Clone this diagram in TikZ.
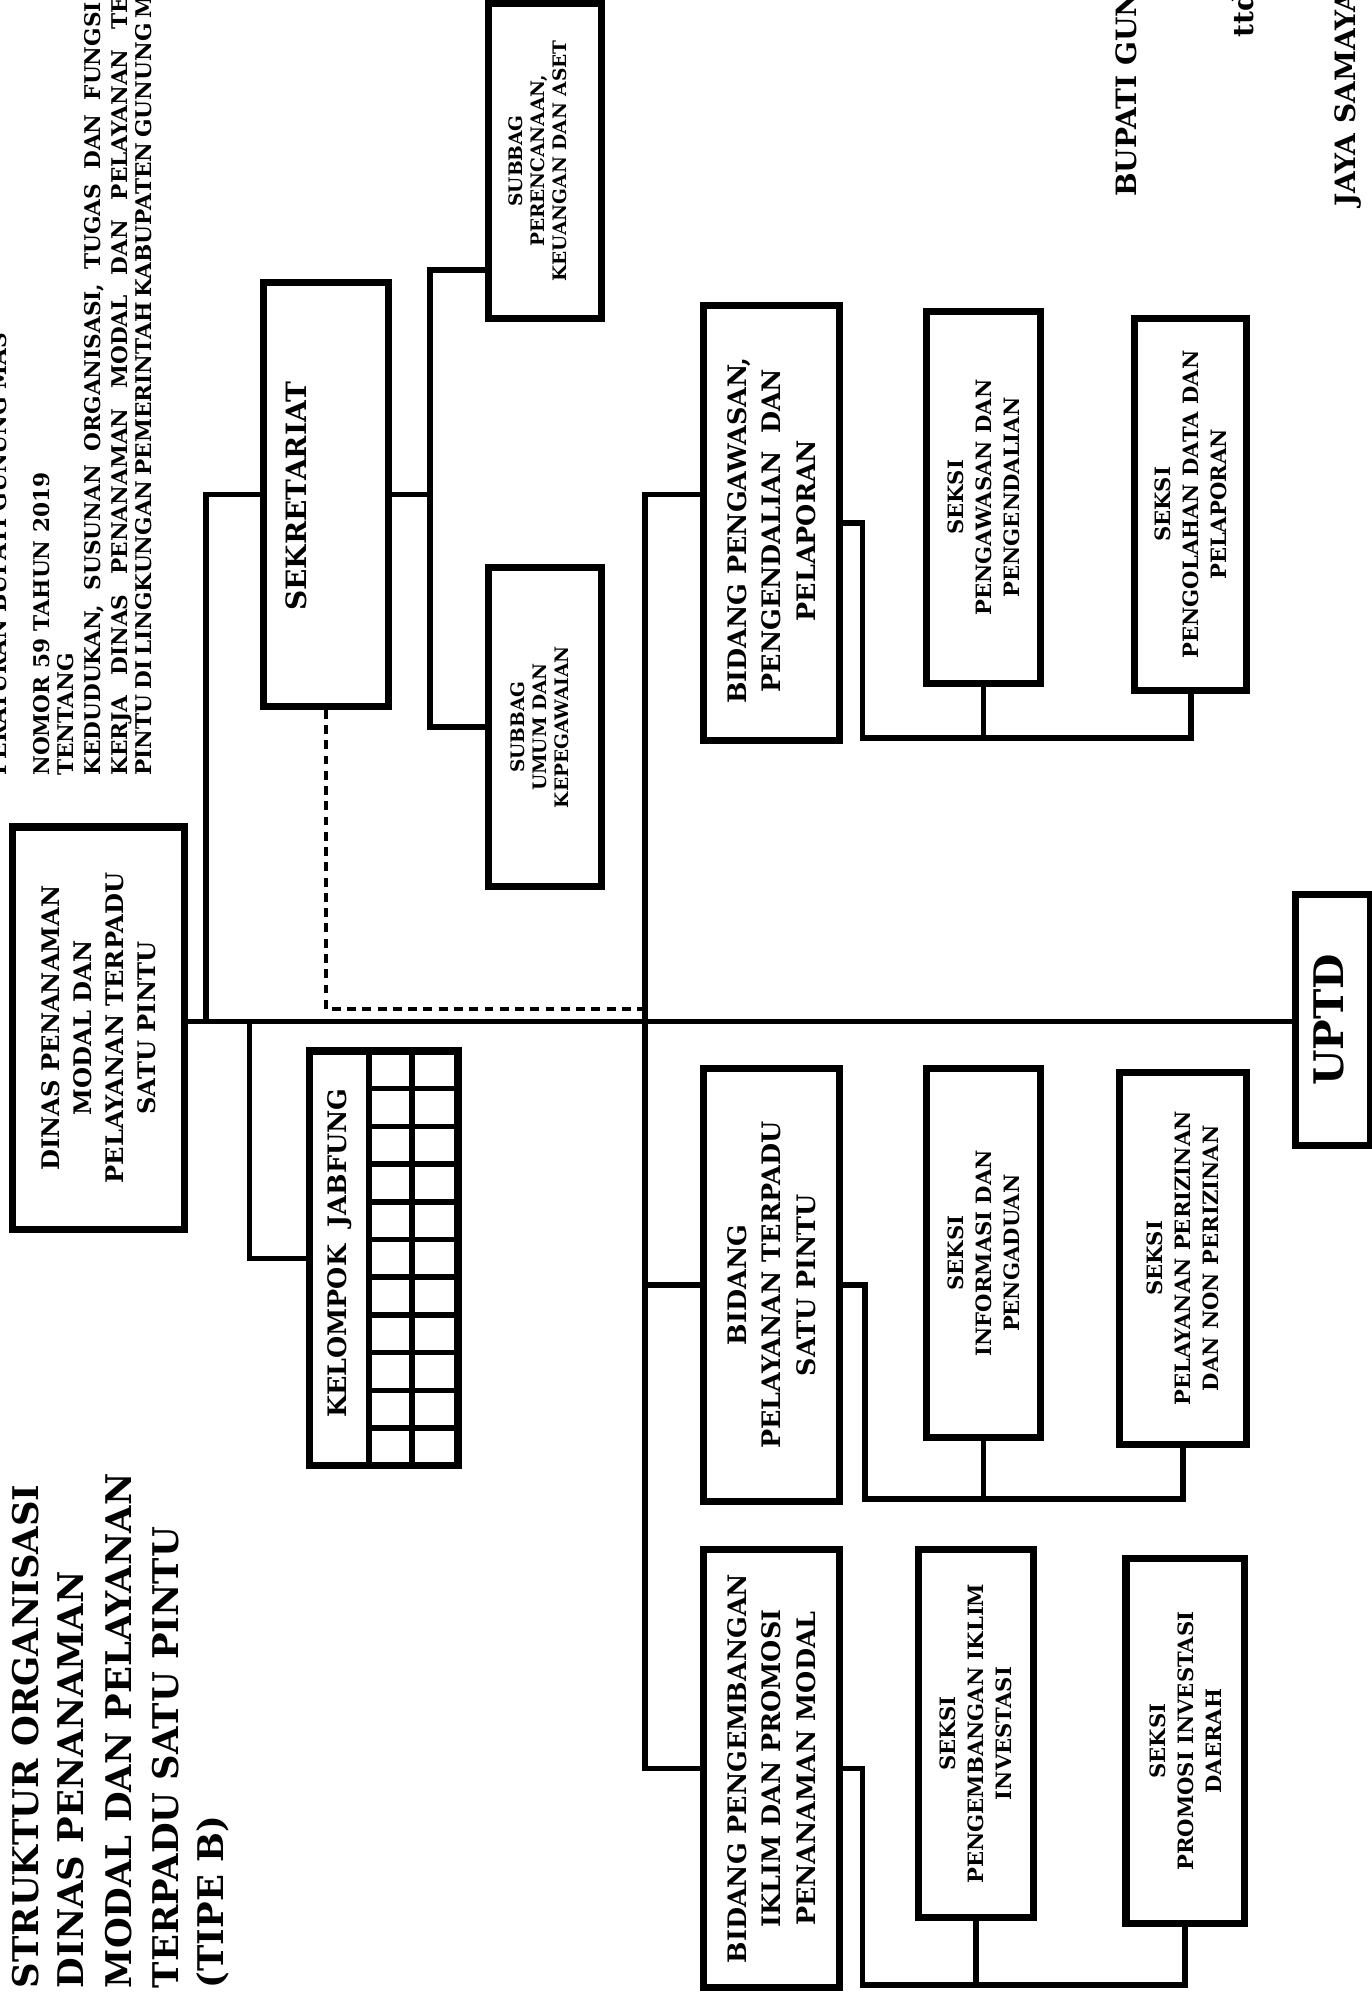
\documentclass[tikz,border=0pt]{standalone}
\usepackage{fontspec}
\setmainfont{DejaVu Serif}
\usetikzlibrary{fit,calc}
\tikzset{
  box/.style={draw, line width=2.8pt, inner sep=0pt, rectangle},
  conn/.style={line width=2.2pt},
  dashconn/.style={line width=1.5pt, dash pattern=on 3.5pt off 2.5pt},
  vtext/.style={rotate=90, inner sep=0pt, anchor=base west},
  btext/.style={rotate=90, inner sep=0pt, align=center},
  hdr/.style={vtext, font=\bfseries\fontsize{8.5}{10}\selectfont},
  ttl/.style={vtext, font=\bfseries\fontsize{13.9}{18}\selectfont},
  sig/.style={vtext, font=\bfseries\fontsize{11}{13}\selectfont},
  bidf/.style={btext, font=\bfseries\fontsize{10}{13.5}\selectfont},
  seksif/.style={btext, font=\bfseries\fontsize{8.3}{11}\selectfont},
  subf/.style={btext, font=\bfseries\fontsize{7.3}{8.6}\selectfont}
}
\begin{document}
\begin{tikzpicture}[x=0.5pt, y=-0.5pt]
\fill[white] (0,0) rectangle (1078,1568);
\useasboundingbox (0,0) rectangle (1078,1568);

% header text
\node[hdr] (h0) at (5,610) {PERATURAN BUPATI GUNUNG MAS};
\node[hdr] (h1) at (39,610) {NOMOR 59 TAHUN 2019};
\node[hdr] (h2) at (58,610) {TENTANG};
\node[hdr] (h3) at (79,610) {\makebox[304pt][s]{KEDUDUKAN, SUSUNAN ORGANISASI, TUGAS DAN FUNGSI}};
\node[hdr] (h4) at (100,610) {\makebox[306pt][s]{KERJA DINAS PENANAMAN MODAL DAN PELAYANAN TE\makebox[0pt][l]{RPADU SATU}}};
\node[hdr] (h5) at (119,610) {\makebox[306pt][s]{PINTU DI LINGKUNGAN PEMERINTAH KABUPATEN GUNUNG M\makebox[0pt][l]{AS}}};

% title
\node[ttl] (t1) at (30,1563) {STRUKTUR ORGANISASI};
\node[ttl] (t2) at (66,1563) {DINAS PENANAMAN};
\node[ttl] (t3) at (103,1563) {MODAL DAN PELAYANAN};
\node[ttl] (t4) at (140,1563) {TERPADU SATU PINTU};
\node[ttl] (t5) at (176,1563) {(TIPE B)};

% signature
\node[sig] (g1) at (893,155) {BUPATI GUNUNG MAS,};
\node[sig] (g2) at (985,30) {ttd};
\node[sig] (g3) at (1065,163) {JAYA SAMAYA MONONG};

% boxes
\node[box, fit={(10,650) (145,966)}] (dinas) {};
\node[btext, font=\bfseries\fontsize{9.5}{12.5}\selectfont] (dinasT) at (dinas.center) {DINAS PENANAMAN\\MODAL DAN\\PELAYANAN TERPADU\\SATU PINTU};
\node[box, fit={(207,222) (305,555)}] (sek) {};
\node[btext, font=\bfseries\fontsize{11}{13}\selectfont] (sekT) at (233,390) {SEKRETARIAT};
\node[box, fit={(384,3) (473,250)}] (sp) {};
\node[subf] (spT) at ($(sp.center)+(-6,0)$) {SUBBAG\\PERENCANAAN,\\KEUANGAN DAN ASET};
\node[box, fit={(384,446) (473,697)}] (su) {};
\node[subf] (suT) at ($(su.center)+(-4,0)$) {SUBBAG\\UMUM DAN\\KEPEGAWAIAN};
\node[box, fit={(243,826) (360,1152)}] (jab) {};
\node[btext, font=\bfseries\fontsize{10}{12}\selectfont] (jabT) at (267,985) {KELOMPOK\ \ JABFUNG};
\node[box, fit={(553,240) (660,582)}] (bpeng) {};
\node[bidf] (bpengT) at ($(bpeng.center)+(0,6)$) {BIDANG PENGAWASAN,\\PENGENDALIAN\ \ DAN\\PELAPORAN};
\node[box, fit={(553,840) (660,1180)}] (bpel) {};
\node[bidf] (bpelT) at (bpel.center) {BIDANG\\PELAYANAN TERPADU\\SATU PINTU};
\node[box, fit={(553,1218) (660,1562)}] (bkem) {};
\node[bidf] (bkemT) at (bkem.center) {BIDANG PENGEMBANGAN\\IKLIM DAN PROMOSI\\PENANAMAN MODAL};
\node[box, fit={(728,245) (818,537)}] (s11) {};
\node[seksif] (s11T) at (s11.center) {SEKSI\\PENGAWASAN DAN\\PENGENDALIAN};
\node[box, fit={(892,250) (980,543)}] (s12) {};
\node[seksif] (s12T) at (s12.center) {SEKSI\\PENGOLAHAN DATA DAN\\PELAPORAN};
\node[box, fit={(728,840) (818,1130)}] (s21) {};
\node[seksif] (s21T) at (s21.center) {SEKSI\\INFORMASI DAN\\PENGADUAN};
\node[box, fit={(880,843) (980,1135)}] (s22) {};
\node[seksif] (s22T) at (s22.center) {SEKSI\\PELAYANAN PERIZINAN\\DAN NON PERIZINAN};
\node[box, fit={(722,1218) (812,1507)}] (s31) {};
\node[seksif] (s31T) at (s31.center) {SEKSI\\PENGEMBANGAN IKLIM\\INVESTASI};
\node[box, fit={(885,1225) (978,1512)}] (s32) {};
\node[seksif] (s32T) at (s32.center) {SEKSI\\PROMOSI INVESTASI\\DAERAH};
\node[box, fit={(1018,703) (1077,900)}] (uptd) {};
\node[btext, font=\bfseries\fontsize{16}{18}\selectfont] (uptdT) at ($(uptd.center)+(-3,0)$) {UPTD};

% jabfung grid
\draw[conn] (290,826) -- (290,1152);
\draw[conn] (324,826) -- (324,1152);
\foreach \k in {1,...,10} {
  \draw[conn] (290,{826+\k*326/11}) -- (360,{826+\k*326/11});
}

% connectors
\coordinate (T) at (0,803);
\coordinate (ja) at (162,803);
\coordinate (jb) at (196,803);
\coordinate (jc) at (338,212);
\coordinate (jd) at (507,793);
\coordinate (vx) at (507,803);
\coordinate (k1) at (678,580);
\coordinate (k2) at (680,1178);
\coordinate (k3) at (678,1560);

\draw[conn] (dinas.east |- T) -- (uptd.west |- T);
\draw[conn] (sek.west) -| (ja);
\draw[conn] (jab.west) -| (jb);
\draw[conn] (sek.east) -- (sek.east -| jc);
\draw[conn] (jc -| sp.west) -- (jc) |- (su.west);
\draw[dashconn] (sek.south) |- (jd);
\draw[conn] (bpeng.west |- sek.east) -| (vx |- bkem.west) -- (bkem.west);
\draw[conn] (bpel.west) -- (bpel.west -| vx);

\draw[conn] (bpeng.east) -| (k1) -| (s12.south);
\draw[conn] (s11.south) -- (s11.south |- k1);
\draw[conn] (bpel.east) -| (k2) -| (s22.south);
\draw[conn] (s21.south) -- (s21.south |- k2);
\draw[conn] (bkem.east) -| (k3) -| (s32.south);
\draw[conn] (s31.south) -- (s31.south |- k3);
\end{tikzpicture}
\end{document}
